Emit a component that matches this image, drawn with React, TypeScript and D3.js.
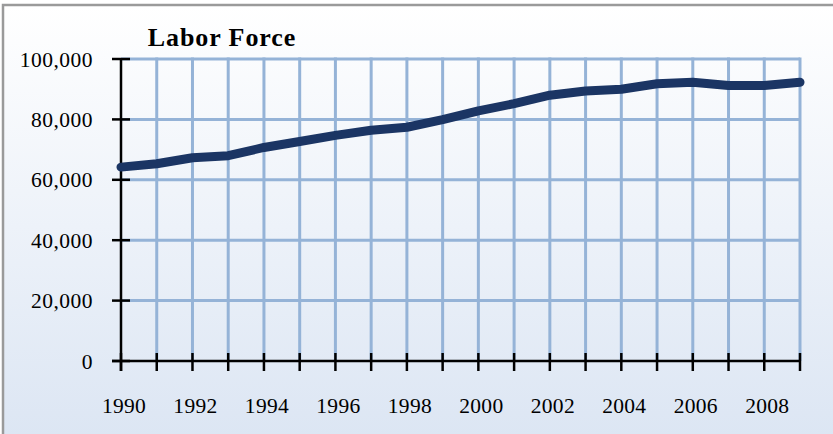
import React from "react";
import * as d3 from "d3";

const years = [1990,1991,1992,1993,1994,1995,1996,1997,1998,1999,2000,2001,2002,2003,2004,2005,2006,2007,2008,2009];
const laborForce = [64200,65300,67300,68000,70700,72700,74700,76400,77400,79900,82800,85200,88000,89400,90000,91800,92300,91200,91200,92300];
const yTicks = [0,20000,40000,60000,80000,100000];
const xLabelYears = [1990,1992,1994,1996,1998,2000,2002,2004,2006,2008];
const title = "Labor Force";

const W = 833, H = 434;
const X0 = 121, X1 = 800, Y0 = 361, Y1 = 59;

export default function App() {
  const x = d3.scaleLinear().domain([1990, 2009]).range([X0, X1]);
  const y = d3.scaleLinear().domain([0, 100000]).range([Y0, Y1]);
  const line = d3.line<number>().x((_, i) => x(years[i])).y(d => y(d));
  const fmt = d3.format(",");
  const font = "'Liberation Serif', 'DejaVu Serif', serif";
  return (
    <svg width={W} height={H} style={{ position: "fixed", left: 0, top: 0, display: "block" }}>
      <defs>
        <linearGradient id="bg" x1="0" y1="0" x2="0" y2="1">
          <stop offset="0" stopColor="#ffffff" />
          <stop offset="1" stopColor="#dbe5f3" />
        </linearGradient>
      </defs>
      <rect x={0} y={0} width={W} height={H} fill="#ffffff" />
      <rect x={3} y={5} width={W + 10} height={H + 10} fill="url(#bg)" stroke="#9a9a9a" strokeWidth={2.5} />
      <text x={222} y={46} textAnchor="middle" fontFamily={font} fontWeight="bold" fontSize={26} letterSpacing={0.9} fill="#000">{title}</text>
      {yTicks.filter(t => t > 0).map(t => (
        <line key={"h" + t} x1={X0} x2={X1} y1={y(t)} y2={y(t)} stroke="#95b3d7" strokeWidth={3} />
      ))}
      {years.slice(1).map(yr => (
        <line key={"v" + yr} x1={x(yr)} x2={x(yr)} y1={Y1 - 1.5} y2={Y0} stroke="#95b3d7" strokeWidth={3} />
      ))}
      <line x1={X0} x2={X0} y1={Y1} y2={Y0 + 10} stroke="#000" strokeWidth={2.5} />
      <line x1={X0 - 9} x2={X1} y1={Y0} y2={Y0} stroke="#000" strokeWidth={2.5} />
      {yTicks.map(t => (
        <g key={"yt" + t}>
          <line x1={X0 - 9} x2={X0 + 9} y1={y(t)} y2={y(t)} stroke="#000" strokeWidth={2.5} />
          <text x={93} y={y(t)} dy="0.35em" textAnchor="end" fontFamily={font} fontSize={21.5} letterSpacing={0.5} fill="#000">{fmt(t)}</text>
        </g>
      ))}
      {years.map(yr => (
        <line key={"xt" + yr} x1={x(yr)} x2={x(yr)} y1={Y0 - 8} y2={Y0 + 10} stroke="#000" strokeWidth={2.5} />
      ))}
      {xLabelYears.map(yr => (
        <text key={"xl" + yr} x={x(yr) + 3} y={413} textAnchor="middle" fontFamily={font} fontSize={21.5} letterSpacing={0.3} fill="#000">{yr}</text>
      ))}
      <path d={line(laborForce) || ""} fill="none" stroke="#1b3564" strokeWidth={9} strokeLinecap="round" strokeLinejoin="round" />
    </svg>
  );
}
